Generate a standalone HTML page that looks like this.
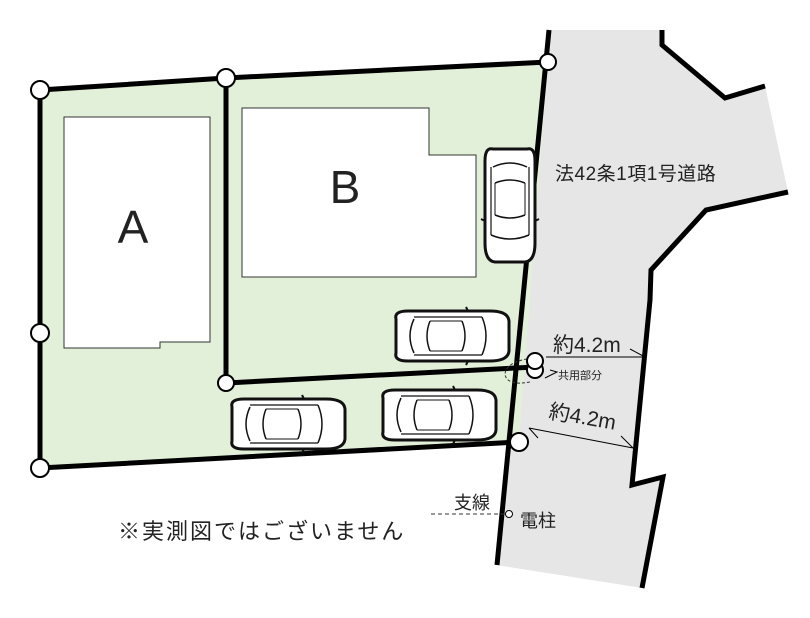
<!DOCTYPE html>
<html><head><meta charset="utf-8"><style>
html,body{margin:0;padding:0;background:#fff;}
svg{display:block;}
text{font-family:"Liberation Sans","Noto Sans CJK JP",sans-serif;fill:#222;}
</style></head><body>
<svg width="810" height="618" viewBox="0 0 810 618" xmlns="http://www.w3.org/2000/svg">
<defs>
<g id="car">
<path d="M6,8 Q4,0 18,0 L100,0 Q118,0 119,10 L119,40 Q118,50 100,50 L18,50 Q4,50 6,42 Z" fill="#fff" stroke="#111" stroke-width="3"/>
<path d="M24,8 Q16,25 24,42" fill="none" stroke="#111" stroke-width="1.5"/>
<path d="M40,10 Q34,25 40,40" fill="none" stroke="#111" stroke-width="1.5"/>
<path d="M72,10 Q78,25 72,40" fill="none" stroke="#111" stroke-width="1.5"/>
<path d="M92,6 Q100,25 92,44" fill="none" stroke="#111" stroke-width="1.5"/>
<line x1="24" y1="6" x2="92" y2="6" stroke="#111" stroke-width="1.2"/>
<line x1="24" y1="44" x2="92" y2="44" stroke="#111" stroke-width="1.2"/>
<line x1="40" y1="10" x2="72" y2="10" stroke="#111" stroke-width="1"/>
<line x1="40" y1="40" x2="72" y2="40" stroke="#111" stroke-width="1"/>
<path d="M78,0 L76,-4 M78,50 L76,54" stroke="#111" stroke-width="2"/>
</g>
</defs>
<polygon points="549,30 662,30 662,45 725,98 765,86 788,192 706,210 651,270 632,485 663,477 642,588 496,565" fill="#e6e6e6"/>
<polyline points="662,30 662,45 725,98 765,86" fill="none" stroke="#000" stroke-width="5"/>
<polyline points="788,192 706,210 651,270 650,300 632,485 663,477 642,588" fill="none" stroke="#000" stroke-width="5"/>
<polygon points="40,90 548,62 519,442 40,468" fill="#e3f0d9"/>
<line x1="549" y1="30" x2="497" y2="565" stroke="#000" stroke-width="5"/>
<polyline points="548,62 226,78 40,90 40,468 519,442" fill="none" stroke="#000" stroke-width="5"/>
<line x1="226" y1="78" x2="226" y2="383" stroke="#000" stroke-width="5"/>
<line x1="226" y1="383" x2="535" y2="367" stroke="#000" stroke-width="5"/>
<polygon points="64,117 210,117 210,342 160,342 160,348 64,348" fill="#fff" stroke="#333" stroke-width="1"/>
<polygon points="242,108 429,108 429,155 476,155 476,277 242,277" fill="#fff" stroke="#333" stroke-width="1"/>
<text x="133" y="243" font-size="46" text-anchor="middle" style="font-weight:300">A</text>
<text x="345" y="203" font-size="46" text-anchor="middle" style="font-weight:300">B</text>
<use href="#car" transform="translate(535,143) rotate(90)"/>
<use href="#car" transform="translate(390,311)"/>
<use href="#car" transform="translate(226,399)"/>
<use href="#car" transform="translate(377,390)"/>
<path d="M532,358 Q505,362 505,375 Q508,386 530,382" fill="none" stroke="#333" stroke-width="1" stroke-dasharray="3,2"/>
<g fill="#fff" stroke="#000" stroke-width="2">
<circle cx="40" cy="90" r="9"/><circle cx="40" cy="333" r="9"/><circle cx="40" cy="468" r="9"/>
<circle cx="226" cy="78" r="9"/><circle cx="226" cy="383" r="8"/><circle cx="548" cy="62" r="8"/>
<circle cx="535" cy="370" r="8"/><circle cx="535" cy="361" r="8"/><circle cx="519" cy="442" r="9"/>
</g>
<line x1="546" y1="357" x2="645" y2="357" stroke="#000" stroke-width="1"/>
<line x1="630" y1="349" x2="645" y2="357" stroke="#000" stroke-width="1"/>
<text x="553" y="352" font-size="21">約4.2m</text>
<polyline points="550,370 557,372 545,378" fill="none" stroke="#000" stroke-width="1"/>
<text x="558" y="379" font-size="11">共用部分</text>
<line x1="529" y1="428" x2="633" y2="448" stroke="#000" stroke-width="1"/>
<line x1="529" y1="428" x2="538" y2="438" stroke="#000" stroke-width="1"/>
<line x1="633" y1="448" x2="621" y2="436" stroke="#000" stroke-width="1"/>
<text x="548" y="418" font-size="21" transform="rotate(10 548 418)">約4.2m</text>
<text x="555" y="180" font-size="19" letter-spacing="0.5">法42条1項1号道路</text>
<line x1="431" y1="514" x2="505" y2="514" stroke="#333" stroke-width="1" stroke-dasharray="4,3"/>
<circle cx="509" cy="514" r="3.5" fill="#fff" stroke="#000" stroke-width="1"/>
<text x="454" y="509" font-size="18">支線</text>
<text x="520" y="527" font-size="18">電柱</text>
<text x="118" y="539" font-size="22" letter-spacing="2">※実測図ではございません</text>
</svg>
</body></html>
